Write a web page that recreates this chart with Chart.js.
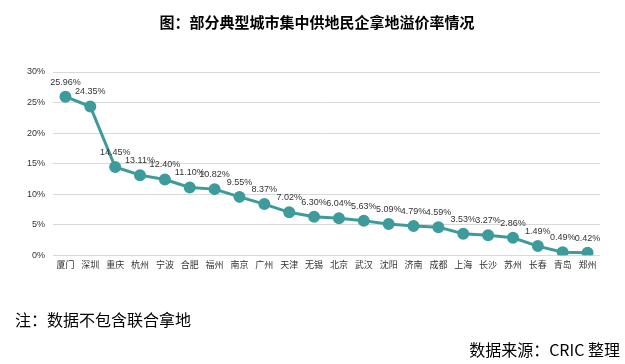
<!DOCTYPE html>
<html><head><meta charset="utf-8">
<script src="https://cdn.jsdelivr.net/npm/chart.js@4/dist/chart.umd.min.js"></script>
<style>
html,body{margin:0;padding:0;background:#fff;}
#wrap{position:relative;width:625px;height:364px;}
canvas{position:absolute;left:0;top:0;}
.txt{position:absolute;font-family:"Noto Sans CJK SC";color:#000;white-space:nowrap;line-height:1;}
</style></head><body>
<div id="wrap">
<canvas id="c" width="625" height="364"></canvas>
<div class="txt" id="title" style="left:0;width:634px;text-align:center;top:14px;font-size:15px;font-weight:bold;"></div>
<div class="txt" style="left:15px;top:311px;font-size:16px;">注：数据不包含联合拿地</div>
<div class="txt" style="right:5px;top:341px;font-size:16px;">数据来源：CRIC 整理</div>
</div>
<script>
const categories = ["厦门","深圳","重庆","杭州","宁波","合肥","福州","南京","广州","天津","无锡","北京","武汉","沈阳","济南","成都","上海","长沙","苏州","长春","青岛","郑州"];
const premiumRate = [25.96,24.35,14.45,13.11,12.40,11.10,10.82,9.55,8.37,7.02,6.30,6.04,5.63,5.09,4.79,4.59,3.53,3.27,2.86,1.49,0.49,0.42];
const yTicks = [0,5,10,15,20,25,30];
const chartTitle = "图：部分典型城市集中供地民企拿地溢价率情况";
document.getElementById('title').textContent = chartTitle;

const labelPlugin = {
  id: 'pointLabels',
  afterDatasetsDraw(chart) {
    const ctx = chart.ctx;
    const meta = chart.getDatasetMeta(0);
    ctx.save();
    ctx.font = '9px "Liberation Sans", Arial, sans-serif';
    ctx.fillStyle = '#333';
    ctx.textAlign = 'center';
    ctx.textBaseline = 'bottom';
    meta.data.forEach((pt, i) => {
      ctx.fillText(premiumRate[i].toFixed(2) + '%', pt.x, pt.y - 10);
    });
    ctx.restore();
  }
};

new Chart(document.getElementById('c'), {
  type: 'line',
  data: {
    labels: categories,
    datasets: [{
      data: premiumRate,
      borderColor: '#3d9b9b',
      backgroundColor: '#3d9b9b',
      borderWidth: 3,
      pointRadius: 4.5,
      pointHoverRadius: 4.5,
      tension: 0,
      fill: false
    }]
  },
  options: {
    responsive: false,
    animation: false,
    layout: { padding: { left: 0, right: 25, top: 72, bottom: 90 } },
    plugins: {
      legend: { display: false },
      tooltip: { enabled: false },
      title: { display: false }
    },
    scales: {
      x: {
        offset: true,
        grid: { display: false, drawTicks: false },
        border: { display: false },
        ticks: {
          color: '#333', padding: 4, maxRotation: 0, autoSkip: false,
          font: { family: '"Noto Sans CJK SC"', size: 9 }
        }
      },
      y: {
        min: 0, max: 30,
        afterBuildTicks(scale) { scale.ticks = yTicks.map(v => ({ value: v })); },
        afterFit(scale) { scale.width = 53; },
        grid: { color: '#d9d9d9', drawTicks: false, lineWidth: 1 },
        border: { display: false },
        ticks: {
          color: '#333', padding: 8,
          font: { family: '"Liberation Sans", Arial, sans-serif', size: 9 },
          callback: v => v + '%'
        }
      }
    }
  },
  plugins: [labelPlugin]
});
</script>
</body></html>
